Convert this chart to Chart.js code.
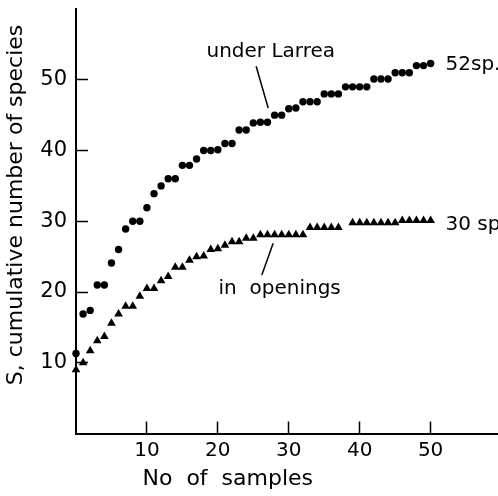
<!DOCTYPE html>
<html>
<head>
<meta charset="utf-8">
<script src="https://cdn.jsdelivr.net/npm/chart.js@4.4.1/dist/chart.umd.min.js"></script>
<style>
  html, body { margin: 0; padding: 0; background: #fff; }
</style>
</head>
<body>
<canvas id="speciesChart" width="498" height="496"></canvas>
<script>
// cumulative species counts
const larreaSamples = [0, 1, 2, 3, 4, 5, 6, 7, 8, 9, 10, 11, 12, 13, 14, 15, 16, 17, 18, 19, 20,
  21, 22, 23, 24, 25, 26, 27, 28, 29, 30, 31, 32, 33, 34, 35, 36, 37, 38, 39, 40,
  41, 42, 43, 44, 45, 46, 47, 48, 49, 50];
const larreaSpecies = [11.3, 16.9, 17.4, 21, 21, 24.1, 26, 28.9, 30, 30, 31.9, 33.9, 35, 36, 36,
  37.9, 37.9, 38.8, 40, 40, 40.1, 41, 41, 42.9, 42.9, 43.9, 44, 44, 45, 45, 45.9, 46,
  46.9, 46.9, 46.9, 48, 48, 48, 49, 49, 49, 49, 50.1, 50.1, 50.1, 51, 51, 51, 52, 52, 52.3];

const openingSamples = [0, 1, 2, 3, 4, 5, 6, 7, 8, 9, 10, 11, 12, 13, 14, 15, 16, 17, 18, 19, 20,
  21, 22, 23, 24, 25, 26, 27, 28, 29, 30, 31, 32, 33, 34, 35, 36, 37,
  39, 40, 41, 42, 43, 44, 45, 46, 47, 48, 49, 50];
const openingSpecies = [9, 10, 11.7, 13.1, 13.7, 15.6, 16.9, 18, 18, 19.4, 20.5, 20.5, 21.6, 22.2,
  23.5, 23.5, 24.5, 25, 25.1, 26, 26.1, 26.6, 27.1, 27.1, 27.6, 27.6,
  28.1, 28.1, 28.1, 28.1, 28.1, 28.1, 28.1, 29.1, 29.1, 29.1, 29.1, 29.1,
  29.8, 29.8, 29.8, 29.8, 29.8, 29.8, 29.8, 30.1, 30.1, 30.1, 30.1, 30.1];

const xTicks = [10, 20, 30, 40, 50];
const yTicks = [10, 20, 30, 40, 50];

const FONT = '"DejaVu Sans", sans-serif';

function toPoints(xs, ys) {
  return xs.map((x, i) => ({ x: x, y: ys[i] }));
}

// text labels and pointer lines, placed in data units
const notes = [
  { text: 'under Larrea', x: 18.4, y: 53.9 },
  { text: '52sp.', x: 52.1, y: 52.1 },
  { text: '30 sp', x: 52.1, y: 29.5 },
  { text: 'in  openings', x: 20.1, y: 20.4 },
];
const leaders = [
  [25.4, 51.9, 27.1, 46.0],
  [27.8, 26.9, 26.2, 22.4],
];

const notesPlugin = {
  id: 'notes',
  afterDraw(chart) {
    const ctx = chart.ctx;
    const xs = chart.scales.x;
    const ys = chart.scales.y;
    ctx.save();
    ctx.fillStyle = '#000';
    ctx.strokeStyle = '#000';
    ctx.lineWidth = 1.5;
    ctx.font = '20px ' + FONT;
    ctx.textAlign = 'left';
    ctx.textBaseline = 'middle';
    notes.forEach((n) => {
      ctx.fillText(n.text, xs.getPixelForValue(n.x), ys.getPixelForValue(n.y));
    });
    leaders.forEach((l) => {
      ctx.beginPath();
      ctx.moveTo(xs.getPixelForValue(l[0]), ys.getPixelForValue(l[1]));
      ctx.lineTo(xs.getPixelForValue(l[2]), ys.getPixelForValue(l[3]));
      ctx.stroke();
    });

    // axis titles
    ctx.textAlign = 'center';
    ctx.font = '22px ' + FONT;
    ctx.fillText('No  of  samples', xs.getPixelForValue(21.4), chart.chartArea.bottom + 46);
    ctx.translate(16, ys.getPixelForValue(32.3));
    ctx.rotate(-Math.PI / 2);
    ctx.font = '22px ' + FONT;
    ctx.fillText('S, cumulative number of species', 0, 0);
    ctx.restore();
  },
};

new Chart(document.getElementById('speciesChart').getContext('2d'), {
  type: 'scatter',
  data: {
    datasets: [{
      label: 'under Larrea',
      data: toPoints(larreaSamples, larreaSpecies),
      pointStyle: 'circle',
      pointRadius: 3.7,
      backgroundColor: '#000',
      borderColor: '#000',
      borderWidth: 0,
      clip: false,
    }, {
      label: 'in openings',
      data: toPoints(openingSamples, openingSpecies),
      pointStyle: 'triangle',
      pointRadius: 5,
      backgroundColor: '#000',
      borderColor: '#000',
      borderWidth: 0,
      clip: false,
    }],
  },
  options: {
    responsive: false,
    animation: false,
    layout: { autoPadding: false, padding: { top: 9, right: 0, left: 0, bottom: 0 } },
    plugins: {
      legend: { display: false },
      tooltip: { enabled: false },
    },
    scales: {
      x: {
        type: 'linear',
        min: 0,
        max: 59.5,
        afterBuildTicks: (s) => { s.ticks = xTicks.map((v) => ({ value: v })); },
        afterFit: (s) => { s.height = 62.5; s.paddingLeft = 0; s.paddingRight = 0; },
        grid: { drawOnChartArea: false, tickLength: -12, tickColor: '#000', tickWidth: 1.5 },
        border: { color: '#000', width: 2 },
        ticks: { color: '#000', font: { family: FONT, size: 20 }, padding: 17, maxRotation: 0 },
      },
      y: {
        type: 'linear',
        min: 0,
        max: 60,
        afterBuildTicks: (s) => { s.ticks = yTicks.map((v) => ({ value: v })); },
        afterFit: (s) => { s.width = 76; s.paddingTop = 0; s.paddingBottom = 0; },
        grid: { drawOnChartArea: false, tickLength: -12, tickColor: '#000', tickWidth: 1.5 },
        border: { color: '#000', width: 2 },
        ticks: { color: '#000', font: { family: FONT, size: 21 }, padding: 21 },
      },
    },
  },
  plugins: [notesPlugin],
});
</script>
</body>
</html>
